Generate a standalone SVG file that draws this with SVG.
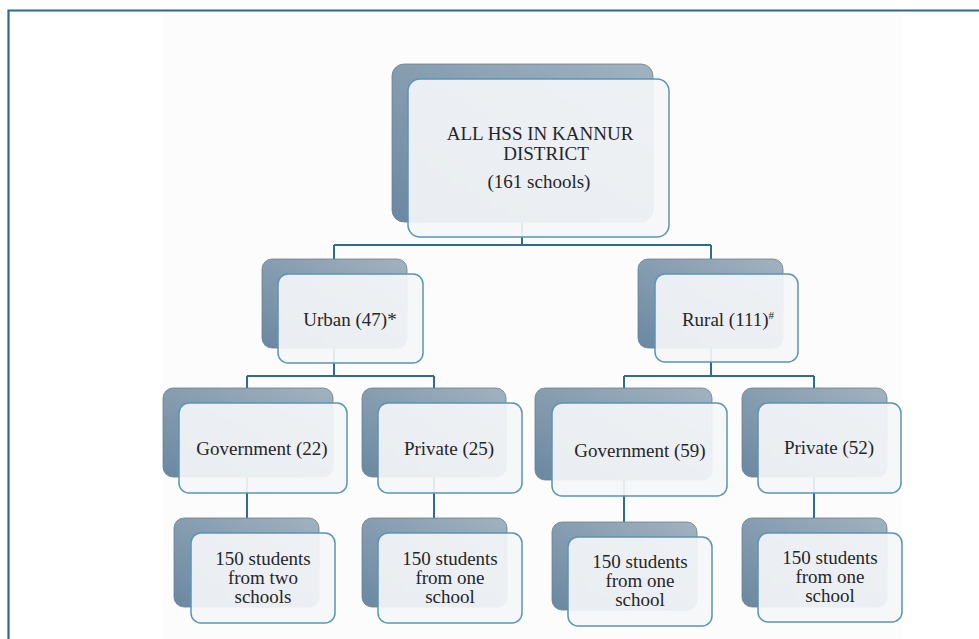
<svg xmlns="http://www.w3.org/2000/svg" width="979" height="639" viewBox="0 0 979 639">
<defs>
<linearGradient id="bg" x1="1" y1="0" x2="0" y2="1">
<stop offset="0" stop-color="#a2b2bf"/>
<stop offset="1" stop-color="#6a88a2"/>
</linearGradient>
</defs>
<style>
.back{fill:url(#bg);stroke:#6f7d89;stroke-width:0.8}
.front{fill:#f4f6f8;fill-opacity:0.92;stroke:#5a95b4;stroke-width:1.5}
.conn{fill:none;stroke:#2e6d8e;stroke-width:2}
text{font-family:"Liberation Serif","Times New Roman",serif;font-size:19px;fill:#262626;text-anchor:middle}
.sup{font-size:11px}
</style>
<rect x="0" y="0" width="979" height="639" fill="#ffffff"/>
<rect x="163" y="12" width="739" height="627" fill="#fcfcfd"/>
<path d="M8.5 639 V10.5 H979" fill="none" stroke="#2b6a8c" stroke-width="2.2"/>

<g id="connectors">
<path class="conn" d="M522 222 V245 M334 245 H711 M334 245 V259 M711 245 V259"/>
<path class="conn" d="M334 348 V376 M247 376 H434 M247 376 V388 M434 376 V388"/>
<path class="conn" d="M711 348 V376 M624 376 H814 M624 376 V388 M814 376 V388"/>
<path class="conn" d="M247 477 V518 M434 477 V518 M624 480 V522 M814 477 V518"/>
</g>

<g id="root">
<rect class="back" x="392" y="64" width="261" height="158" rx="12"/>
<rect class="front" x="408" y="79" width="261" height="158" rx="12"/>
<text x="540" y="140">ALL HSS IN KANNUR</text>
<text x="546" y="160">DISTRICT</text>
<text x="539" y="188">(161 schools)</text>
</g>

<g id="urban">
<rect class="back" x="262" y="259" width="145" height="89" rx="10"/>
<rect class="front" x="278" y="274" width="145" height="89" rx="10"/>
<text x="350" y="326">Urban (47)*</text>
</g>

<g id="rural">
<rect class="back" x="638" y="259" width="145" height="89" rx="10"/>
<rect class="front" x="655" y="274" width="143" height="88" rx="10"/>
<text x="728" y="326">Rural (111)<tspan class="sup" dy="-7">#</tspan></text>
</g>

<g id="urban-gov">
<rect class="back" x="163" y="388" width="170" height="89" rx="10"/>
<rect class="front" x="179" y="403" width="168" height="90" rx="10"/>
<text x="262" y="455">Government (22)</text>
</g>

<g id="urban-pvt">
<rect class="back" x="362" y="388" width="144" height="89" rx="10"/>
<rect class="front" x="378" y="403" width="144" height="90" rx="10"/>
<text x="449" y="455">Private (25)</text>
</g>

<g id="rural-gov">
<rect class="back" x="535" y="388" width="177" height="92" rx="10"/>
<rect class="front" x="552" y="403" width="175" height="93" rx="10"/>
<text x="640" y="457">Government (59)</text>
</g>

<g id="rural-pvt">
<rect class="back" x="742" y="388" width="145" height="89" rx="10"/>
<rect class="front" x="758" y="403" width="143" height="90" rx="10"/>
<text x="829" y="454">Private (52)</text>
</g>

<g id="sample-urban-gov">
<rect class="back" x="174" y="518" width="145" height="89" rx="10"/>
<rect class="front" x="191" y="533" width="144" height="90" rx="10"/>
<text x="263" y="565">150 students</text>
<text x="263" y="584">from two</text>
<text x="263" y="603">schools</text>
</g>

<g id="sample-urban-pvt">
<rect class="back" x="362" y="518" width="145" height="89" rx="10"/>
<rect class="front" x="378" y="533" width="144" height="90" rx="10"/>
<text x="450" y="565">150 students</text>
<text x="450" y="584">from one</text>
<text x="450" y="603">school</text>
</g>

<g id="sample-rural-gov">
<rect class="back" x="552" y="522" width="145" height="88" rx="10"/>
<rect class="front" x="568" y="537" width="144" height="89" rx="10"/>
<text x="640" y="568">150 students</text>
<text x="640" y="587">from one</text>
<text x="640" y="606">school</text>
</g>

<g id="sample-rural-pvt">
<rect class="back" x="742" y="518" width="145" height="89" rx="10"/>
<rect class="front" x="758" y="533" width="144" height="89" rx="10"/>
<text x="830" y="564">150 students</text>
<text x="830" y="583">from one</text>
<text x="830" y="602">school</text>
</g>
</svg>
